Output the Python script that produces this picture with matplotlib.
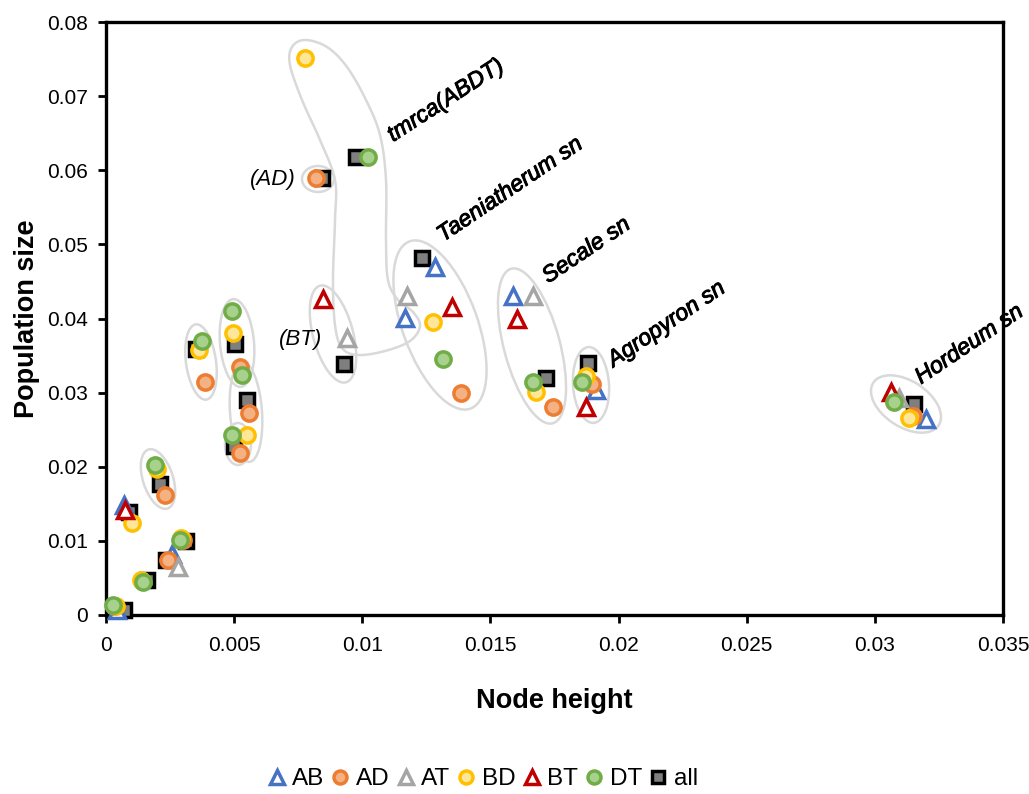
import numpy as np
import matplotlib.pyplot as plt
import matplotlib.patheffects as pe
from matplotlib.patches import Ellipse, Polygon
from matplotlib.transforms import Affine2D

plt.rcParams['font.family'] = ['Liberation Sans', 'DejaVu Sans']

# node height / population size per pair
ab_x = [0.00043, 0.00258, 0.0007, 0.01285, 0.01168, 0.0159, 0.0191, 0.032]
ab_y = [0.0007, 0.0082, 0.0149, 0.047, 0.0401, 0.043, 0.0304, 0.0264]

ad_x = [0.0003, 0.0014, 0.00242, 0.003, 0.0023, 0.00387, 0.00523, 0.00559,
        0.00523, 0.0082, 0.01387, 0.01746, 0.01898, 0.0315]
ad_y = [0.0012, 0.0046, 0.0074, 0.0101, 0.0162, 0.0314, 0.0334, 0.0273,
        0.0219, 0.0589, 0.03, 0.0281, 0.0311, 0.0268]

at_x = [0.00281, 0.00941, 0.01176, 0.01668, 0.03094]
at_y = [0.0065, 0.0374, 0.043, 0.043, 0.0293]

bd_x = [0.0004, 0.00137, 0.00293, 0.001, 0.002, 0.00363, 0.00496, 0.00551,
        0.00777, 0.01277, 0.01676, 0.01871, 0.03133]
bd_y = [0.0012, 0.0047, 0.0104, 0.0124, 0.0197, 0.0358, 0.0381, 0.0243,
        0.0751, 0.0395, 0.0301, 0.0322, 0.0266]

bt_x = [0.00074, 0.00848, 0.01352, 0.01605, 0.01871, 0.03063]
bt_y = [0.0142, 0.0426, 0.0416, 0.0399, 0.028, 0.0301]

dt_x = [0.00027, 0.00145, 0.00289, 0.00191, 0.00375, 0.00492, 0.00531,
        0.00492, 0.01023, 0.01313, 0.01668, 0.01859, 0.03074]
dt_y = [0.0014, 0.0045, 0.0101, 0.0203, 0.0369, 0.041, 0.0324, 0.0243,
        0.0618, 0.0345, 0.0315, 0.0315, 0.0288]

all_x = [0.0007, 0.0016, 0.00234, 0.00313, 0.0009, 0.00211, 0.00352, 0.00504,
         0.00551, 0.005, 0.00844, 0.00977, 0.0093, 0.01234, 0.01715, 0.01879, 0.03152]
all_y = [0.0007, 0.0047, 0.0074, 0.01, 0.0139, 0.0177, 0.0359, 0.0365,
         0.029, 0.0228, 0.0589, 0.0618, 0.0338, 0.0482, 0.032, 0.034, 0.0284]

W, H = 1029, 794
fig = plt.figure(figsize=(W / 100, H / 100), dpi=100)
ax = fig.add_axes([106 / W, 1 - 615 / H, (1003 - 106) / W, (615 - 22) / H])

# reference pixel coords -> figure
pix = Affine2D().scale(1 / W, -1 / H).translate(0, 1) + fig.transFigure

shape_col = '#d9d9d9'
ellipses = [  # cx, cy, w, h, angle  (pixels)
    (158, 479, 30, 62, 18),
    (201, 362, 30, 76, 8),
    (237, 343, 34, 88, 5),
    (246, 412, 32, 100, 4),
    (238, 444, 26, 42, 0),
    (318, 179, 32, 26, 0),
    (333, 334, 40, 100, 15),
    (440, 325, 75, 178, 20),
    (532, 346, 56, 160, 15),
    (591, 385, 36, 76, 4),
    (906, 404, 78, 46, -33),
]
for cx, cy, w, h, a in ellipses:
    t = Affine2D().rotate_deg(-a).translate(cx, cy) + pix
    ax.add_patch(Ellipse((0, 0), w, h, fill=False, ec=shape_col, lw=1.8,
                         transform=t, clip_on=False, zorder=1))

# free-form loop round the tmrca(ABDT) node
loop = np.array([(305, 40), (327, 47), (347, 67), (366, 100), (380, 135),
                 (386, 180), (386, 240), (388, 280), (398, 300), (413, 312),
                 (420, 326), (410, 341), (385, 351), (358, 355), (342, 348),
                 (335, 325), (333, 280), (335, 220), (335, 180), (320, 140),
                 (302, 100), (290, 65), (292, 47)], float)
n = len(loop)
pts = []
for i in range(n):
    p0, p1, p2, p3 = loop[i - 1], loop[i], loop[(i + 1) % n], loop[(i + 2) % n]
    for t in np.linspace(0, 1, 12, endpoint=False):
        pts.append(0.5 * (2 * p1 + (-p0 + p2) * t
                          + (2 * p0 - 5 * p1 + 4 * p2 - p3) * t ** 2
                          + (-p0 + 3 * p1 - 3 * p2 + p3) * t ** 3))
ax.add_patch(Polygon(np.array(pts), closed=True, fill=False, ec=shape_col,
                     lw=1.8, transform=pix, clip_on=False, zorder=1))

series = [
    ('all', all_x, all_y, 's', 'black', '#7f7f7f', 10.5),
    ('AB', ab_x, ab_y, '^', '#4472c4', 'white', 12),
    ('AD', ad_x, ad_y, 'o', '#ed7d31', '#f4b183', 11),
    ('AT', at_x, at_y, '^', '#a5a5a5', 'white', 12),
    ('BD', bd_x, bd_y, 'o', '#ffc000', '#ffe699', 11),
    ('BT', bt_x, bt_y, '^', '#c00000', 'white', 12),
    ('DT', dt_x, dt_y, 'o', '#70ad47', '#a9d18e', 11),
]
handles = {}
for i, (name, xs, ys, m, ec, fc, ms) in enumerate(series):
    h, = ax.plot(xs, ys, ls='none', marker=m, ms=ms, mec=ec, mfc=fc,
                 mew=2.5, clip_on=False, zorder=3 + i, label=name)
    handles[name] = h

ax.set_xlim(0, 0.035)
ax.set_ylim(0, 0.08)
ax.set_xticks(np.arange(0, 0.0351, 0.005))
ax.set_yticks(np.arange(0, 0.0801, 0.01))
ax.set_xticklabels(['0', '0.005', '0.01', '0.015', '0.02', '0.025', '0.03', '0.035'])
ax.set_yticklabels(['0', '0.01', '0.02', '0.03', '0.04', '0.05', '0.06', '0.07', '0.08'])
ax.tick_params(labelsize=15, length=6, width=2, direction='out')
ax.tick_params(axis='x', pad=9)
ax.tick_params(axis='y', pad=7)
for s in ax.spines.values():
    s.set_linewidth(2.4)
ax.set_xlabel('Node height', fontsize=19.5, fontweight='bold', labelpad=24)
ax.set_ylabel('Population size', fontsize=19.5, fontweight='bold', labelpad=5)

# slightly heavier than regular italic
heavy = [pe.withStroke(linewidth=0.7, foreground='black')]
lab = dict(fontsize=16.5, style='italic', ha='left', va='baseline',
           rotation_mode='anchor', zorder=20, path_effects=heavy)
ax.text(0.0112, 0.0638, 'tmrca(ABDT)', rotation=33, **lab)
ax.text(0.01315, 0.0503, 'Taeniatherum sn', rotation=34, **lab)
ax.text(0.01725, 0.0447, 'Secale sn', rotation=34, **lab)
ax.text(0.0198, 0.0334, 'Agropyron sn', rotation=34, **lab)
ax.text(0.0318, 0.0311, 'Hordeum sn', rotation=34, **lab)
ax.text(0.00742, 0.0588, '(AD)', fontsize=16, style='italic', ha='right', va='center')
ax.text(0.00844, 0.0372, '(BT)', fontsize=16, style='italic', ha='right', va='center')

order = ['AB', 'AD', 'AT', 'BD', 'BT', 'DT', 'all']
fig.legend([handles[k] for k in order], order, loc='center',
           bbox_to_anchor=(0.4675, 1 - 779 / H), ncol=7, frameon=False,
           fontsize=17.5, handlelength=1.0, handletextpad=0.15, columnspacing=0.15,
           markerscale=0.85)

fig.savefig('out.png', dpi=100)
